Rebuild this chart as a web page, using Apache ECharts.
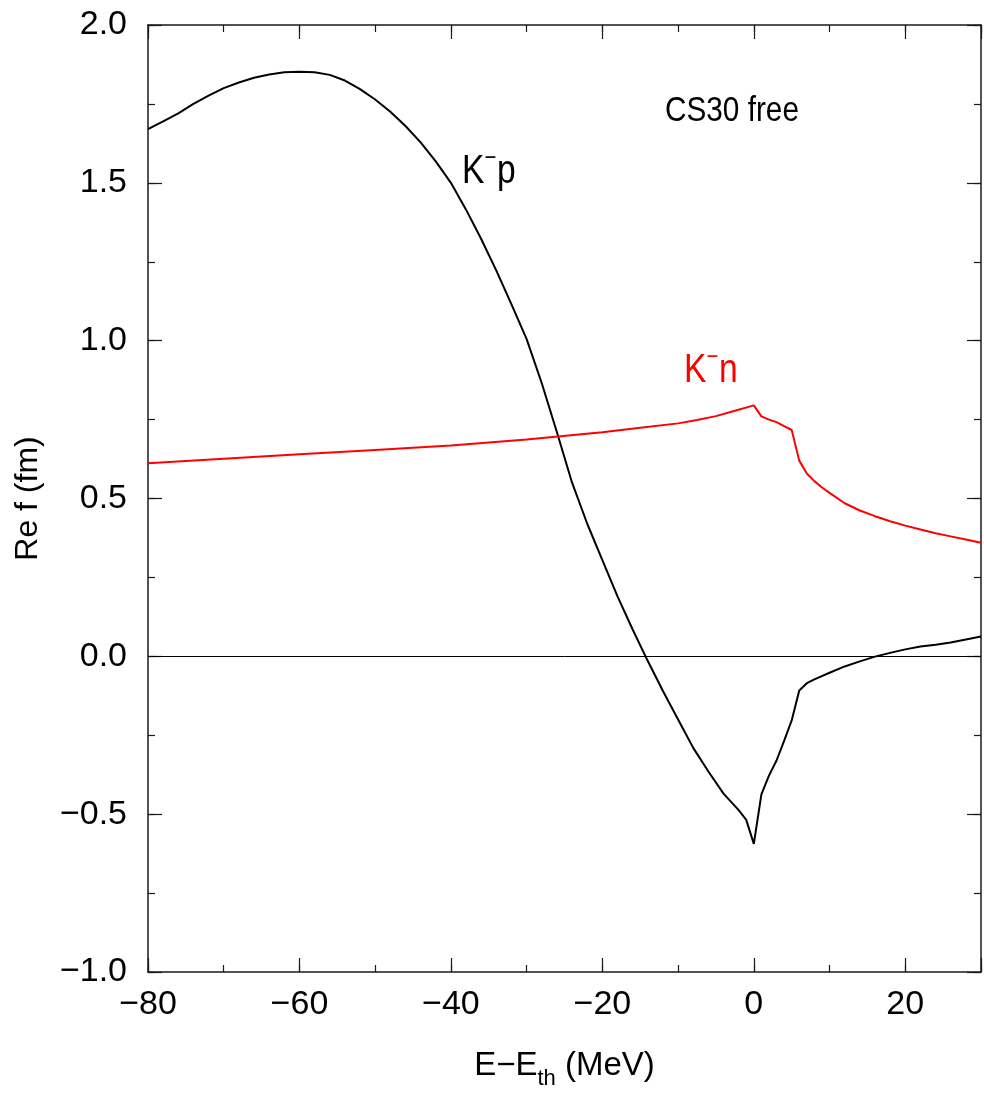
<!DOCTYPE html>
<html>
<head>
<meta charset="utf-8">
<title>Re f — CS30 free</title>
<script src="https://cdn.jsdelivr.net/npm/echarts@6/dist/echarts.min.js"></script>
<style>
  html, body { margin: 0; padding: 0; background: #fff; overflow: hidden; }
  #chart { width: 100vw; height: 100vh; }
</style>
</head>
<body>
<div id="chart"></div>
<script>
// Real part of the K⁻N scattering amplitude vs. energy relative to threshold
const kpEnergy = [-80,-78,-76,-74,-72,-70,-68,-66,-64,-62,-60,-58,-56,-54,-52,-50,-48,-46,-44,-42,-40,-38,-36,-34,-32,-30,-28,-26,-24,-22,-20,-18,-16,-14,-12,-10,-8,-6,-4,-2,-1,0,1,2,3,4,5,6,7,8,10,12,14,16,18,20,22,24,26,28,30];
const kpRe = [1.670,1.695,1.720,1.750,1.776,1.800,1.818,1.833,1.843,1.850,1.852,1.850,1.842,1.824,1.797,1.764,1.725,1.680,1.628,1.568,1.500,1.415,1.322,1.222,1.115,1.005,0.865,0.710,0.550,0.420,0.305,0.190,0.085,-0.015,-0.110,-0.200,-0.290,-0.365,-0.435,-0.487,-0.518,-0.594,-0.437,-0.378,-0.330,-0.268,-0.203,-0.108,-0.085,-0.073,-0.052,-0.032,-0.016,-0.001,0.011,0.022,0.031,0.037,0.044,0.053,0.063];

const knEnergy = [-80,-70,-60,-50,-40,-30,-20,-15,-10,-7.5,-5,-2.5,0,1,2,3,4,5,6,7,8,9,10,12,14,16,18,20,22,24,26,28,30];
const knRe = [0.612,0.626,0.640,0.654,0.668,0.687,0.710,0.724,0.738,0.749,0.761,0.778,0.795,0.760,0.750,0.742,0.729,0.717,0.620,0.579,0.555,0.535,0.518,0.485,0.462,0.444,0.428,0.414,0.402,0.390,0.380,0.370,0.360];

// axis ranges and tick spacing
const xRange = [-80, 30];
const xMajor = 20, xMinor = 10;
const yRange = [-1.0, 2.0];
const yMajor = 0.5, yMinor = 0.25;

const SANS = '"Liberation Sans Narrow", "Liberation Sans", Arial, sans-serif';
const AXIS_COLOR = '#1a1a1a';
const NARROW_SCALE = 0.84;

const chart = echarts.init(document.getElementById('chart'), null, { renderer: 'canvas' });

// layout is designed on a 984 x 1095 canvas and scaled to the actual size
const W = chart.getWidth(), H = chart.getHeight();
const sx = W / 984, sy = H / 1095;
const px = v => v * sx;
const py = v => v * sy;
const fs = v => v * sy;

function minusSign(s) { return String(s).replace('-', '\u2212'); }

function zip(xs, ys) { return xs.map((x, i) => [x, ys[i]]); }

function xAxisDef(pos, interval, tickLen, withLabels, withLine) {
  return {
    type: 'value', position: pos, min: xRange[0], max: xRange[1], interval: interval,
    axisLine: { show: withLine, onZero: false, lineStyle: { color: AXIS_COLOR, width: 1.5 } },
    axisTick: { show: true, inside: true, length: py(tickLen), lineStyle: { color: AXIS_COLOR, width: 1.2 } },
    axisLabel: withLabels ? {
      show: true, margin: py(16), fontFamily: SANS, fontSize: fs(34), color: '#000',
      formatter: v => (v % xMajor === 0 ? minusSign(v) : '')
    } : { show: false },
    splitLine: { show: false }
  };
}

function yAxisDef(pos, interval, tickLen, withLabels, withLine) {
  return {
    type: 'value', position: pos, min: yRange[0], max: yRange[1], interval: interval,
    axisLine: { show: withLine, onZero: false, lineStyle: { color: AXIS_COLOR, width: 1.5 } },
    axisTick: { show: true, inside: true, length: px(tickLen), lineStyle: { color: AXIS_COLOR, width: 1.2 } },
    axisLabel: withLabels ? {
      show: true, margin: px(21), fontFamily: SANS, fontSize: fs(34), color: '#000',
      formatter: v => minusSign(v.toFixed(1))
    } : { show: false },
    splitLine: { show: false }
  };
}

const xAxes = [
  xAxisDef('bottom', xMajor, 14, true, true),
  xAxisDef('bottom', xMinor, 7, false, false),
  xAxisDef('top', xMajor, 14, false, true),
  xAxisDef('top', xMinor, 7, false, false)
];
xAxes[0].name = '{a|E\u2212E}{s|th}{a| (MeV)}';
xAxes[0].nameLocation = 'middle';
xAxes[0].nameGap = py(76);
xAxes[0].nameTextStyle = {
  color: '#000',
  rich: {
    a: { fontFamily: SANS, fontSize: fs(33), lineHeight: fs(36), color: '#000' },
    s: { fontFamily: SANS, fontSize: fs(22), lineHeight: fs(24), padding: [fs(26), 0, 0, 0], color: '#000' }
  }
};

const yAxes = [
  yAxisDef('left', yMajor, 14, true, true),
  yAxisDef('left', yMinor, 7, false, false),
  yAxisDef('right', yMajor, 14, false, true),
  yAxisDef('right', yMinor, 7, false, false)
];
yAxes[0].name = 'Re f (fm)';
yAxes[0].nameLocation = 'middle';
yAxes[0].nameGap = px(104);
yAxes[0].nameTextStyle = { fontFamily: '"Liberation Sans", Arial, sans-serif', fontSize: fs(32), color: '#000' };

// "K⁻x" label with a raised minus sign
function curveLabel(text, color) {
  return {
    text: '{k|K}{m|\u2212}{k|' + text + '}',
    textAlign: 'left', textVerticalAlign: 'middle',
    rich: {
      k: { fontFamily: SANS, fontSize: fs(40), lineHeight: fs(48), fill: color, color: color },
      m: { fontFamily: SANS, fontSize: fs(24), lineHeight: fs(16), padding: [0, 1, fs(28), 0], fill: color, color: color }
    },
    fill: color
  };
}

chart.setOption({
  animation: false,
  backgroundColor: '#fff',
  grid: { left: px(148), right: px(1), top: py(25), bottom: py(116), containLabel: false },
  xAxis: xAxes,
  yAxis: yAxes,
  series: [
    {
      name: 'K\u207Bp', type: 'line', xAxisIndex: 0, yAxisIndex: 0,
      data: zip(kpEnergy, kpRe), showSymbol: false, smooth: false,
      lineStyle: { color: '#000', width: 2 },
      markLine: {
        silent: true, symbol: 'none', label: { show: false },
        lineStyle: { color: '#000', width: 1, type: 'solid' },
        data: [{ yAxis: 0 }]
      }
    },
    {
      name: 'K\u207Bn', type: 'line', xAxisIndex: 0, yAxisIndex: 0,
      data: zip(knEnergy, knRe), showSymbol: false, smooth: false,
      lineStyle: { color: '#ff0000', width: 2 }
    }
  ],
  graphic: [
    {
      type: 'text', x: px(665), y: py(111), scaleX: 0.85,
      style: { text: 'CS30 free', fontFamily: SANS, fontSize: fs(35), fill: '#000', textAlign: 'left', textVerticalAlign: 'middle' }
    },
    { type: 'text', x: px(462), y: py(172), scaleX: NARROW_SCALE, style: curveLabel('p', '#000') },
    { type: 'text', x: px(684), y: py(371), scaleX: NARROW_SCALE, style: curveLabel('n', '#ff0000') }
  ]
});
</script>
</body>
</html>
